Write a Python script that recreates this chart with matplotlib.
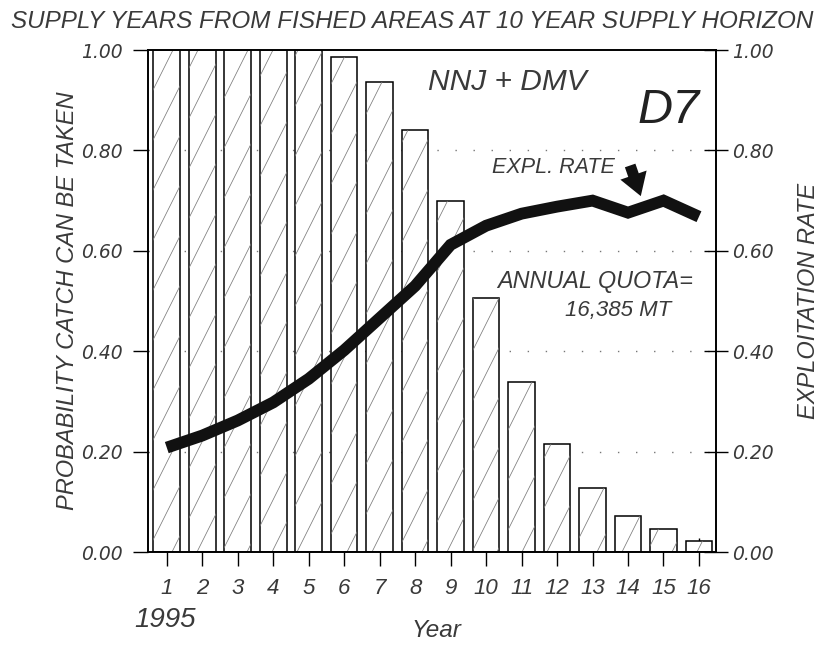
import numpy as np
import matplotlib
matplotlib.use("Agg")
import matplotlib.pyplot as plt
from matplotlib.collections import LineCollection
from matplotlib.path import Path

# ------------------------------------------------------------
# DATA
# ------------------------------------------------------------
years = np.arange(1, 17)
prob_catch = [1.00, 1.00, 1.00, 1.00, 1.00, 0.987, 0.937, 0.840,
              0.699, 0.507, 0.339, 0.216, 0.128, 0.072, 0.046, 0.022]
expl_rate = [0.208, 0.232, 0.262, 0.298, 0.345, 0.402, 0.466, 0.530,
             0.612, 0.650, 0.674, 0.688, 0.700, 0.676, 0.700, 0.668]
ytick_vals = [0.0, 0.2, 0.4, 0.6, 0.8, 1.0]

TXT = "#3a3a3a"
FONT = "DejaVu Sans"
HELV = "Liberation Sans"

fig = plt.figure(figsize=(8.29, 6.47), dpi=100)
ax = fig.add_axes([0.1785, 0.1468, 0.6852, 0.7759])
XLIM = (0.47, 16.48)

# dotted grid behind bars
for v in ytick_vals[1:-1]:
    ax.axhline(v, color="#777777", lw=1.0, ls=(0, (1, 12)), zorder=0)

bars = ax.bar(years, prob_catch, width=0.75, color="white",
              edgecolor="black", linewidth=1.1, zorder=2)

# steep, sparse diagonal hatch clipped to the bars
w_px = fig.get_figwidth() * fig.dpi * ax.get_position().width
h_px = fig.get_figheight() * fig.dpi * ax.get_position().height
px_per_x = w_px / (XLIM[1] - XLIM[0])
run = (h_px / 2.0) / px_per_x          # slope of 2 in pixel space
step = 25.0 / px_per_x                 # ~25 px between hatch lines
starts = np.arange(XLIM[0] - run, XLIM[1], step)
segs = [[(s, 0.0), (s + run, 1.0)] for s in starts]
hatch = LineCollection(segs, colors="#7a7a7a", linewidths=0.55, zorder=2.5)
clip = Path.make_compound_path(
    *[b.get_path().transformed(b.get_patch_transform()) for b in bars])
ax.add_collection(hatch)
hatch.set_clip_path(clip, ax.transData)

# exploitation rate line
ax.plot(years, expl_rate, color="#111111", lw=8.5,
        solid_capstyle="butt", solid_joinstyle="miter", zorder=4)

ax.set_xlim(*XLIM)
ax.set_ylim(0, 1.0)
for s in ax.spines.values():
    s.set_linewidth(1.2)

ax.set_yticks(ytick_vals)
ax.set_yticklabels([f"{v:.2f}" for v in ytick_vals])
ax.set_xticks(years)
ax.set_xticklabels([str(y) for y in years])
ax.tick_params(axis="y", direction="out", length=11, width=1.0, pad=7,
               labelsize=13.5, labelcolor=TXT)
ax.tick_params(axis="x", direction="inout", length=20, width=1.0, pad=9,
               labelsize=16, labelcolor=TXT)
for lab in ax.get_yticklabels():
    lab.set_fontstyle("italic")
    lab.set_family(FONT)
for lab in ax.get_xticklabels():
    lab.set_fontstyle("italic")
    lab.set_family(HELV)

ax2 = ax.twinx()
ax2.set_ylim(0, 1.0)
ax2.set_yticks(ytick_vals)
ax2.set_yticklabels([f"{v:.2f}" for v in ytick_vals])
ax2.tick_params(axis="y", direction="inout", length=17, width=1.0, pad=3,
                labelsize=13.5, labelcolor=TXT)
for lab in ax2.get_yticklabels():
    lab.set_fontstyle("italic")
    lab.set_family(FONT)
for s in ax2.spines.values():
    s.set_linewidth(1.2)

ax.set_ylabel("PROBABILITY CATCH CAN BE TAKEN", fontsize=17,
              fontstyle="italic", family=HELV, color=TXT, labelpad=2)
ax2.set_ylabel("EXPLOITATION RATE", fontsize=17, fontstyle="italic",
               family=HELV, color=TXT, labelpad=17)

# title and annotations
fig.text(0.497, 0.967,
         "SUPPLY YEARS FROM FISHED AREAS AT 10 YEAR SUPPLY HORIZON",
         ha="center", va="center", fontsize=17.5, fontstyle="italic",
         family=HELV, color=TXT)

ax.text(0.493, 0.936, "NNJ + DMV", transform=ax.transAxes, ha="left",
        va="center", fontsize=21.5, fontstyle="italic", family=HELV, color=TXT)
ax.text(0.972, 0.880, "D7", transform=ax.transAxes, ha="right",
        va="center", fontsize=35, fontstyle="italic", family=HELV, color="#222222")
ax.text(0.606, 0.765, "EXPL. RATE", transform=ax.transAxes, ha="left",
        va="center", fontsize=15.5, fontstyle="italic", family=HELV, color=TXT)
ax.text(0.615, 0.538, "ANNUAL QUOTA=", transform=ax.transAxes, ha="left",
        va="center", fontsize=16.8, fontstyle="italic", family=HELV, color=TXT)
ax.text(0.734, 0.482, "16,385 MT", transform=ax.transAxes, ha="left",
        va="center", fontsize=16, fontstyle="italic", family=HELV, color=TXT)

ax.annotate("", xy=(14.36, 0.709), xytext=(14.06, 0.770),
            arrowprops=dict(arrowstyle="simple,head_length=0.8,head_width=1.0,tail_width=0.4",
                            color="#111111", lw=0, mutation_scale=20,
                            shrinkA=0, shrinkB=0), zorder=5)

fig.text(0.199, 0.041, "1995", ha="center", va="center", fontsize=20,
         fontstyle="italic", family=HELV, color=TXT)
fig.text(0.527, 0.025, "Year", ha="center", va="center", fontsize=17.5,
         fontstyle="italic", family=HELV, color=TXT)

fig.savefig("out.png", dpi=100)
